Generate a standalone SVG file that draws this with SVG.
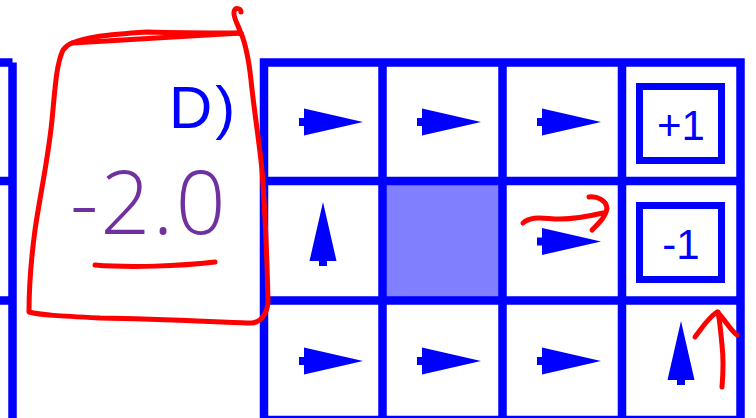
<svg xmlns="http://www.w3.org/2000/svg" xmlns:xlink="http://www.w3.org/1999/xlink" width="756" height="418" viewBox="0 0 756 418">
<style>
.grid{stroke:#0000ff;stroke-width:8.5;fill:none;stroke-linecap:square}
.arr{fill:#0000ff}
.box{fill:#fff;stroke:#0000ff;stroke-width:7}
.lbl{font-family:"Liberation Sans",Arial,sans-serif;font-size:42px;fill:#0000ff;text-anchor:middle}
.ink{fill:none;stroke:#ff0000;stroke-width:5;stroke-linecap:round;stroke-linejoin:round}
</style>
<defs>
<path id="a" d="M0,-4 H5 V-13.5 L64,0 L5,13.5 V4 H0 Z"/>
</defs>
<rect width="756" height="418" fill="#fff"/>
<g id="left-grid">
<path class="grid" d="M12.5,62.5 V420 M0,62.5 H12.5 M0,181 H12.5 M0,300.5 H12.5" style="stroke-linecap:butt"/>
</g>
<g id="grid">
<rect x="382.5" y="181" width="120" height="119.5" fill="#8080ff"/>
<path class="grid" d="M264,62.5 H740.5 V420 H264 Z M382.5,62.5 V420 M502.5,62.5 V420 M622,62.5 V420 M264,181 H740.5 M264,300.5 H740.5"/>
</g>
<g id="policy-arrows" class="arr">
<use href="#a" transform="translate(299,122)"/>
<use href="#a" transform="translate(417,122)"/>
<use href="#a" transform="translate(537,122)"/>
<use href="#a" transform="translate(537,241.5)"/>
<use href="#a" transform="translate(299,361)"/>
<use href="#a" transform="translate(417,361)"/>
<use href="#a" transform="translate(537,361)"/>
<use href="#a" transform="translate(323,266) rotate(-90)"/>
<use href="#a" transform="translate(681,385) rotate(-90)"/>
</g>
<g id="terminal-plus">
<rect class="box" x="639.5" y="86.5" width="82" height="74"/>
<text class="lbl" x="681" y="140">+1</text>
</g>
<g id="terminal-minus">
<rect class="box" x="639.5" y="205.5" width="82" height="74"/>
<text class="lbl" x="681" y="259">-1</text>
</g>
<g id="answer">
<text x="169" y="128" font-family="'Liberation Sans',Arial,sans-serif" font-size="60" fill="#0000ff" letter-spacing="3">D)</text>
<text x="70" y="234" font-family="'Open Sans','DejaVu Sans',sans-serif" font-weight="300" font-size="88" fill="#7030a0" letter-spacing="2">-2.0</text>
<path class="ink" d="M72,43 C85,38 100,35 147,32 C180,33 215,33 241,33"/>
<path class="ink" d="M241,34 C239,26 233,18 234,12 C235,7 241,8 241,12"/>
<path class="ink" d="M241,33 C246,45 249,62 251,80 C254,110 259,140 262,170 C265,210 267,260 268,300 C268,312 262,322 252,323 C220,322 160,319 100,318 C60,316 40,315 29,312 C29,290 31,260 35,230 C40,195 48,160 52,120 C55,90 56,65 63,50 C66,46 69,44 72,43 Z"/>
<path class="ink" d="M95,265 C130,268 180,266 215,262"/>
</g>
<g id="annotations">
<path class="ink" d="M523,223 C532,215 545,219 560,219 C575,219 590,216 603,213"/>
<path class="ink" d="M589,197 C597,196 606,200 607,208 C606,217 598,224 592,230"/>
<path class="ink" d="M722,387 C723,375 724,362 722,345 C721,335 720,322 718,312"/>
<path class="ink" d="M695,337 C702,328 708,318 717,312 C724,318 730,330 737,335"/>
</g>
</svg>
